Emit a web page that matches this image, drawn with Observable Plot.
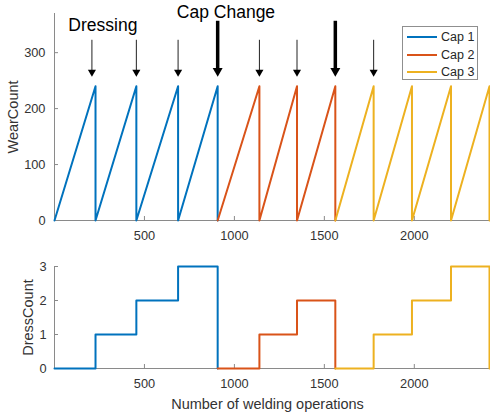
<!DOCTYPE html>
<html>
<head>
<meta charset="utf-8">
<script src="https://cdn.jsdelivr.net/npm/d3@7"></script>
<script src="https://cdn.jsdelivr.net/npm/@observablehq/plot@0.6"></script>
<style>
  html, body { margin: 0; padding: 0; background: white; }
  #wrap { position: relative; width: 490px; height: 414px; overflow: hidden; font-family: "Liberation Sans", Arial, sans-serif; }
  #wrap svg { display: block; }
  #legend { position: absolute; left: 402px; top: 26px; width: 76px; height: 54px; border: 1px solid #8f8f8f; background: white; box-sizing: border-box; }
  .lrow { position: absolute; left: 4px; height: 15px; display: flex; align-items: center; font-size: 12.5px; color: #262626; }
  .lline { width: 30px; height: 0; border-top: 2px solid; margin-right: 4px; }
</style>
</head>
<body>
<div id="wrap">
  <div id="top"></div>
  <div id="bottom"></div>
  <div id="legend"></div>
</div>
<script>
// ---- data ----
const capNames = ["Cap 1", "Cap 2", "Cap 3"];
const capColors = ["#0072BD", "#D95319", "#EDB120"];
// weld count at the end of each dressing cycle
const cycleEnd = [228, 455, 687, 907, 1139, 1348, 1561, 1774, 1987, 2204, 2418];
// which cap each cycle belongs to
const cycleCap = [0, 0, 0, 0, 1, 1, 1, 2, 2, 2, 2];
// dress count during each cycle
const cycleDress = [0, 1, 2, 3, 0, 1, 2, 0, 1, 2, 3];
// wear count reached at the end of each cycle
const cycleWear = [240, 240, 240, 240, 240, 240, 240, 240, 240, 240, 240];
// annotation arrows (x in welding operations)
const dressArrowX = [208, 455, 687, 1139, 1348, 1774];
const capArrowX = [907, 1561];
const xTicks = [500, 1000, 1500, 2000];
const wearTicks = [0, 100, 200, 300];
const dressTicks = [0, 1, 2, 3];
const notes = [
  {text: "Dressing", x: 77, y: 339},
  {text: "Cap Change", x: 680, y: 362}
];

// ---- build line tables ----
const wearRows = [];
const dressRows = [];
cycleEnd.forEach((end, i) => {
  const start = i === 0 ? 0 : cycleEnd[i - 1];
  const cap = capNames[cycleCap[i]];
  wearRows.push({x: start, y: 0, cap}, {x: end, y: cycleWear[i], cap}, {x: end, y: 0, cap});
  dressRows.push({x: start, y: cycleDress[i], cap}, {x: end, y: cycleDress[i], cap});
  const last = i === cycleEnd.length - 1 || cycleCap[i + 1] !== cycleCap[i];
  if (last) dressRows.push({x: end, y: 0, cap});
});

const axisGray = "#8a8a8a";
const textColor = "#333333";
const xDomain = [0, 2418];
const fmt = d3.format("d");
const style = {fontFamily: "'Liberation Sans', Arial, sans-serif", fontSize: "12.8px", background: "white", overflow: "visible"};
const color = {domain: capNames, range: capColors};

const tipY = 257, thinTopY = 323, thickTopY = 357;

const topPlot = Plot.plot({
  width: 490, height: 242,
  marginLeft: 54, marginRight: 1, marginTop: 13, marginBottom: 22,
  style, color,
  x: {domain: xDomain},
  y: {domain: [0, 370]},
  marks: [
    Plot.ruleX([0], {stroke: axisGray}),
    Plot.ruleY([0], {stroke: axisGray}),
    Plot.axisX({ticks: xTicks, tickSize: -4, tickPadding: 14, stroke: axisGray, fill: textColor, label: null, tickFormat: fmt}),
    Plot.axisY({ticks: wearTicks, tickSize: -4, tickPadding: 13, stroke: axisGray, fill: textColor, label: null, tickFormat: fmt}),
    Plot.line(wearRows, {x: "x", y: "y", stroke: "cap", strokeWidth: 2}),
    Plot.link(dressArrowX, {x1: d => d, x2: d => d, y1: thinTopY, y2: tipY + 8, stroke: "#222", strokeWidth: 1}),
    Plot.dot(dressArrowX, {x: d => d, y: tipY, symbol: "triangle", r: 3, fill: "black", stroke: "none", rotate: 180, dy: -4.6}),
    Plot.link(capArrowX, {x1: d => d, x2: d => d, y1: thickTopY, y2: tipY + 10, stroke: "black", strokeWidth: 3.5}),
    Plot.dot(capArrowX, {x: d => d, y: tipY, symbol: "triangle", r: 3.7, fill: "black", stroke: "none", rotate: 180, dy: -5.8}),
    Plot.text(notes, {x: "x", y: "y", text: "text", textAnchor: "start", lineAnchor: "bottom", fontSize: 17.5, fill: "black"}),
    Plot.text(["WearCount"], {frameAnchor: "left", dx: -41, rotate: -90, textAnchor: "middle", lineAnchor: "middle", fontSize: 14.5, fill: textColor})
  ]
});
document.getElementById("top").appendChild(topPlot);

const bottomPlot = Plot.plot({
  width: 490, height: 172,
  marginLeft: 54, marginRight: 1, marginTop: 24, marginBottom: 46,
  style, color,
  x: {domain: xDomain},
  y: {domain: [0, 3]},
  marks: [
    Plot.ruleX([0], {stroke: axisGray}),
    Plot.ruleY([0], {stroke: axisGray}),
    Plot.axisX({ticks: xTicks, tickSize: -4, tickPadding: 14, stroke: axisGray, fill: textColor, label: null, tickFormat: fmt}),
    Plot.axisY({ticks: dressTicks, tickSize: -4, tickPadding: 12, stroke: axisGray, fill: textColor, label: null, tickFormat: fmt}),
    Plot.line(dressRows, {x: "x", y: "y", stroke: "cap", strokeWidth: 2}),
    Plot.text(["DressCount"], {frameAnchor: "left", dx: -26.5, rotate: -90, textAnchor: "middle", lineAnchor: "middle", fontSize: 14.5, fill: textColor}),
    Plot.text(["Number of welding operations"], {frameAnchor: "bottom", dx: -4.5, dy: 30, textAnchor: "middle", lineAnchor: "top", fontSize: 14.5, fill: textColor})
  ]
});
document.getElementById("bottom").appendChild(bottomPlot);

// legend
const legend = document.getElementById("legend");
capNames.forEach((name, i) => {
  const row = document.createElement("div");
  row.className = "lrow";
  row.style.top = (2.5 + i * 17.5) + "px";
  const ln = document.createElement("div");
  ln.className = "lline";
  ln.style.borderTopColor = capColors[i];
  const tx = document.createElement("span");
  tx.textContent = name;
  row.appendChild(ln);
  row.appendChild(tx);
  legend.appendChild(row);
});
</script>
</body>
</html>
